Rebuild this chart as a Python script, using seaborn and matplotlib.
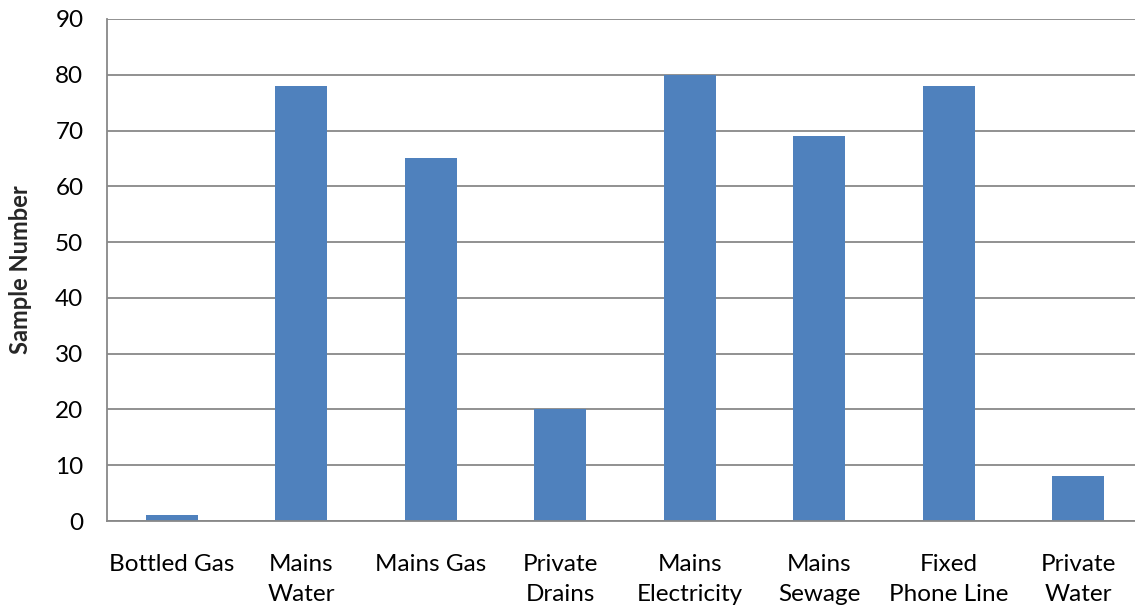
import pandas as pd
import seaborn as sns
import matplotlib.pyplot as plt

# chart data
categories = ['Bottled Gas', 'Mains\nWater', 'Mains Gas', 'Private\nDrains', 'Mains\nElectricity',
              'Mains\nSewage', 'Fixed\nPhone Line', 'Private\nWater']
counts = [1, 78, 65, 20, 80, 69, 78, 8]
yticks = [0, 10, 20, 30, 40, 50, 60, 70, 80, 90]

df = pd.DataFrame({'service': categories, 'count': counts})

sns.set_style('white')
plt.rcParams['font.family'] = ['Lato', 'DejaVu Sans']

fig = plt.figure(figsize=(11.35, 6.12), dpi=100)
ax = fig.add_axes([107 / 1135, 1 - 521 / 612, (1143 - 107) / 1135, (521 - 19) / 612])

sns.barplot(data=df, x='service', y='count', color='#4F81BD', saturation=1, width=0.4,
            linewidth=0, ax=ax)

ax.set_ylim(0, 90)
ax.set_yticks(yticks)
ax.set_xlim(-0.5, len(categories) - 0.5)
ax.set_xticks(range(len(categories)))
ax.set_xticklabels(categories, linespacing=1.5)
ax.yaxis.grid(True, color='#888888', linewidth=1.3)
ax.set_axisbelow(True)
for side in ['top', 'right']:
    ax.spines[side].set_visible(False)
for side in ['left', 'bottom']:
    ax.spines[side].set_color('#888888')
    ax.spines[side].set_linewidth(1.3)

ax.tick_params(axis='both', length=0, labelsize=17.5, colors='black')
ax.tick_params(axis='y', pad=17)
ax.tick_params(axis='x', pad=24)
ax.set_xlabel('')
ax.set_ylabel('Sample Number', fontsize=17, fontweight='bold')
ax.yaxis.set_label_coords(-0.072, 0.5)

fig.savefig('out.png', dpi=100)
